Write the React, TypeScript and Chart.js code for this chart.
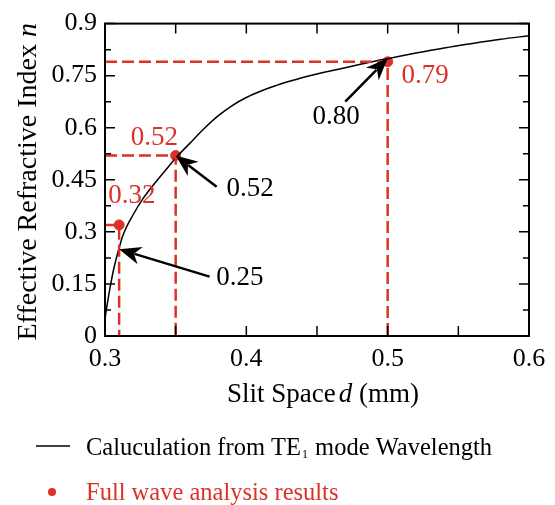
import React, { useEffect, useRef } from "react";
import { Chart, registerables } from "chart.js";

Chart.register(...registerables);

// Calculated curve (TE1 mode wavelength)
const curveX = [0.3, 0.3024, 0.3059, 0.3094, 0.313, 0.32, 0.3271, 0.3342, 0.3437, 0.35, 0.36, 0.37, 0.38, 0.39, 0.4, 0.41, 0.42, 0.43, 0.44, 0.45, 0.46, 0.47, 0.48, 0.49, 0.5, 0.52, 0.54, 0.56, 0.58, 0.6];
const curveY = [0.05, 0.112, 0.188, 0.245, 0.293, 0.35, 0.397, 0.435, 0.482, 0.513, 0.555, 0.597, 0.634, 0.664, 0.687, 0.705, 0.72, 0.733, 0.745, 0.755, 0.764, 0.773, 0.782, 0.791, 0.799, 0.815, 0.83, 0.843, 0.855, 0.865];

// Full wave analysis results
const fullWaveX = [0.31, 0.35, 0.5];
const fullWaveY = [0.32, 0.52, 0.79];
const fullWaveLabels = ["0.32", "0.52", "0.79"];

// Curve values pointed at by arrows
const curveMarkX = [0.31, 0.35, 0.5];
const curveMarkY = [0.25, 0.52, 0.8];
const curveMarkLabels = ["0.25", "0.52", "0.80"];

// Axis ticks
const xMajorTicks = [0.3, 0.4, 0.5, 0.6];
const xMinorTicks = [0.35, 0.45, 0.55];
const yMajorTicks = [0, 0.15, 0.3, 0.45, 0.6, 0.75, 0.9];
const yMinorTicks = [0.075, 0.225, 0.375, 0.525, 0.675, 0.825];

const RED = "#dc3127";
const FONT = "'Liberation Serif', 'Times New Roman', Times, serif";

// annotation layout in data units (label anchors and arrow tails)
const arrowTailX = [0.374, 0.379, 0.47];
const arrowTailY = [0.171, 0.43, 0.675];
const arrowLabelX = [0.3955, 0.4026, 0.4635];
const arrowLabelY = [0.168, 0.424, 0.632];
const redLabelX = [0.319, 0.335, 0.5265];
const redLabelY = [0.405, 0.57, 0.749];

const decoPlugin = {
  id: "deco",
  afterDatasetsDraw(chart: any) {
    const { ctx, chartArea: a, scales } = chart;
    const xs = scales.x;
    const ys = scales.y;
    ctx.save();
    // frame
    ctx.strokeStyle = "#000";
    ctx.lineWidth = 2;
    ctx.strokeRect(a.left, a.top, a.right - a.left, a.bottom - a.top);
    // inward ticks
    ctx.lineWidth = 1.5;
    const tick = (vals: number[], len: number) => {
      for (const v of vals) {
        const px = xs.getPixelForValue(v);
        ctx.beginPath();
        ctx.moveTo(px, a.bottom);
        ctx.lineTo(px, a.bottom - len);
        ctx.moveTo(px, a.top);
        ctx.lineTo(px, a.top + len);
        ctx.stroke();
      }
    };
    tick(xMajorTicks, 10);
    tick(xMinorTicks, 10);
    const ytick = (vals: number[], len: number) => {
      for (const v of vals) {
        const py = ys.getPixelForValue(v);
        ctx.beginPath();
        ctx.moveTo(a.left, py);
        ctx.lineTo(a.left + len, py);
        ctx.moveTo(a.right, py);
        ctx.lineTo(a.right - len, py);
        ctx.stroke();
      }
    };
    ytick(yMajorTicks, 10);
    ytick(yMinorTicks, 6);

    // arrows
    for (let i = 0; i < curveMarkX.length; i++) {
      const tx = xs.getPixelForValue(curveMarkX[i]);
      const ty = ys.getPixelForValue(curveMarkY[i]);
      const sx = xs.getPixelForValue(arrowTailX[i]);
      const sy = ys.getPixelForValue(arrowTailY[i]);
      const ang = Math.atan2(ty - sy, tx - sx);
      const hl = 22;
      const hw = 9;
      const bx = tx - hl * Math.cos(ang);
      const by = ty - hl * Math.sin(ang);
      ctx.strokeStyle = "#000";
      ctx.lineWidth = 2.5;
      ctx.beginPath();
      ctx.moveTo(sx, sy);
      ctx.lineTo(bx + 6 * Math.cos(ang), by + 6 * Math.sin(ang));
      ctx.stroke();
      ctx.fillStyle = "#000";
      ctx.beginPath();
      ctx.moveTo(tx, ty);
      ctx.lineTo(bx + hw * Math.sin(ang), by - hw * Math.cos(ang));
      ctx.lineTo(tx - 0.7 * hl * Math.cos(ang), ty - 0.7 * hl * Math.sin(ang));
      ctx.lineTo(bx - hw * Math.sin(ang), by + hw * Math.cos(ang));
      ctx.closePath();
      ctx.fill();
      // label
      ctx.font = `27px ${FONT}`;
      ctx.textAlign = "center";
      ctx.textBaseline = "middle";
      ctx.fillText(curveMarkLabels[i], xs.getPixelForValue(arrowLabelX[i]), ys.getPixelForValue(arrowLabelY[i]));
    }
    // red labels
    ctx.fillStyle = RED;
    ctx.font = `27px ${FONT}`;
    for (let i = 0; i < fullWaveLabels.length; i++) {
      ctx.fillText(fullWaveLabels[i], xs.getPixelForValue(redLabelX[i]), ys.getPixelForValue(redLabelY[i]));
    }

    // axis titles
    ctx.fillStyle = "#000";
    ctx.textBaseline = "alphabetic";
    ctx.textAlign = "left";
    // x title
    const part1 = "Slit Space";
    const part2 = "d";
    const part3 = " (mm)";
    const xf = 27;
    ctx.font = `${xf}px ${FONT}`;
    const w1 = ctx.measureText(part1).width;
    const w3 = ctx.measureText(part3).width;
    ctx.font = `italic ${xf}px ${FONT}`;
    const w2 = ctx.measureText(part2).width;
    const gap = 3;
    const total = w1 + gap + w2 + w3;
    const cx = (a.left + a.right) / 2 + 6;
    const x0 = cx - total / 2;
    const by0 = a.bottom + 66;
    ctx.font = `${xf}px ${FONT}`;
    ctx.fillText(part1, x0, by0);
    ctx.font = `italic ${xf}px ${FONT}`;
    ctx.fillText(part2, x0 + w1 + gap, by0);
    ctx.font = `${xf}px ${FONT}`;
    ctx.fillText(part3, x0 + w1 + gap + w2, by0);

    // y title
    const yf = 28;
    const yt1 = "Effective Refractive Index ";
    const yt2 = "n";
    ctx.font = `${yf}px ${FONT}`;
    const yw1 = ctx.measureText(yt1).width;
    ctx.font = `italic ${yf}px ${FONT}`;
    const yw2 = ctx.measureText(yt2).width;
    ctx.save();
    ctx.translate(36, (a.top + a.bottom) / 2 + 2);
    ctx.rotate(-Math.PI / 2);
    const ys0 = -(yw1 + yw2) / 2;
    ctx.font = `${yf}px ${FONT}`;
    ctx.fillText(yt1, ys0, 0);
    ctx.font = `italic ${yf}px ${FONT}`;
    ctx.fillText(yt2, ys0 + yw1, 0);
    ctx.restore();

    // legend
    const lf = 24.5;
    const ly1 = 455;
    ctx.strokeStyle = "#000";
    ctx.lineWidth = 1.5;
    ctx.beginPath();
    ctx.moveTo(36, ly1 - 9);
    ctx.lineTo(70, ly1 - 9);
    ctx.stroke();
    ctx.font = `${lf}px ${FONT}`;
    ctx.fillStyle = "#000";
    const l1a = "Caluculation from TE";
    ctx.fillText(l1a, 86, ly1);
    const wa = ctx.measureText(l1a).width;
    ctx.font = `12px ${FONT}`;
    ctx.fillText("1", 86 + wa + 1, ly1 + 3);
    const wsub = ctx.measureText("1").width;
    ctx.font = `${lf}px ${FONT}`;
    ctx.fillText(" mode Wavelength", 86 + wa + 2 + wsub, ly1);

    const ly2 = 500;
    ctx.fillStyle = RED;
    ctx.beginPath();
    ctx.arc(52, ly2 - 8, 4, 0, Math.PI * 2);
    ctx.fill();
    ctx.fillText("Full wave analysis results", 86, ly2);
    ctx.restore();
  },
};

function fmt(v: number) {
  return String(Number(v.toFixed(3)));
}

export default function App() {
  const ref = useRef<HTMLCanvasElement | null>(null);
  useEffect(() => {
    if (!ref.current) return;
    let chart: any = null;
    let cancelled = false;
    const build = () => {
      if (cancelled || !ref.current) return;
      const curve = curveX.map((x, i) => ({ x, y: curveY[i] }));
      const guides = fullWaveX.map((x, i) => ({
        type: "line" as const,
        data: [
          { x: 0.3, y: fullWaveY[i] },
          { x, y: fullWaveY[i] },
          { x, y: 0 },
        ],
        borderColor: RED,
        borderWidth: 2.5,
        borderDash: [12, 5],
        pointRadius: 0,
        fill: false,
        tension: 0,
      }));
      chart = new Chart(ref.current, {
        type: "line",
        data: {
          datasets: [
            ...guides,
            {
              type: "line",
              data: curve,
              borderColor: "#000",
              borderWidth: 1.5,
              pointRadius: 0,
              fill: false,
              cubicInterpolationMode: "monotone",
            },
            {
              type: "scatter",
              data: fullWaveX.map((x, i) => ({ x, y: fullWaveY[i] })),
              backgroundColor: RED,
              borderColor: RED,
              pointRadius: 5,
              showLine: false,
            },
          ] as any,
        },
        options: {
          animation: false,
          responsive: false,
          maintainAspectRatio: false,
          layout: { padding: { left: 0, top: 20, right: 26, bottom: 0 } },
          plugins: { legend: { display: false }, tooltip: { enabled: false } },
          scales: {
            x: {
              type: "linear",
              min: 0.3,
              max: 0.6,
              grid: { display: false, drawTicks: false },
              border: { display: false },
              afterFit: (s: any) => {
                s.height = 169;
              },
              afterBuildTicks: (s: any) => {
                s.ticks = xMajorTicks.map((v) => ({ value: v }));
              },
              ticks: {
                padding: 8,
                color: "#000",
                font: { family: FONT, size: 26 },
                maxRotation: 0,
                callback: (v: any) => fmt(Number(v)),
              },
            },
            y: {
              type: "linear",
              min: 0,
              max: 0.9,
              grid: { display: false, drawTicks: false },
              border: { display: false },
              afterFit: (s: any) => {
                s.width = 105;
              },
              afterBuildTicks: (s: any) => {
                s.ticks = yMajorTicks.map((v) => ({ value: v }));
              },
              ticks: {
                padding: 8,
                color: "#000",
                font: { family: FONT, size: 26 },
                callback: (v: any) => fmt(Number(v)),
              },
            },
          },
        },
        plugins: [decoPlugin],
      });
    };
    const fonts: any = (document as any).fonts;
    if (fonts && fonts.load) {
      Promise.all([
        fonts.load(`24px "Liberation Serif"`),
        fonts.load(`italic 24px "Liberation Serif"`),
      ])
        .catch(() => null)
        .then(() => build());
    } else {
      build();
    }
    return () => {
      cancelled = true;
      if (chart) chart.destroy();
    };
  }, []);
  return (
    <div style={{ position: "fixed", left: 0, top: 0, width: 555, height: 505, background: "#fff" }}>
      <canvas ref={ref} width={555} height={505} style={{ width: 555, height: 505 }} />
    </div>
  );
}
